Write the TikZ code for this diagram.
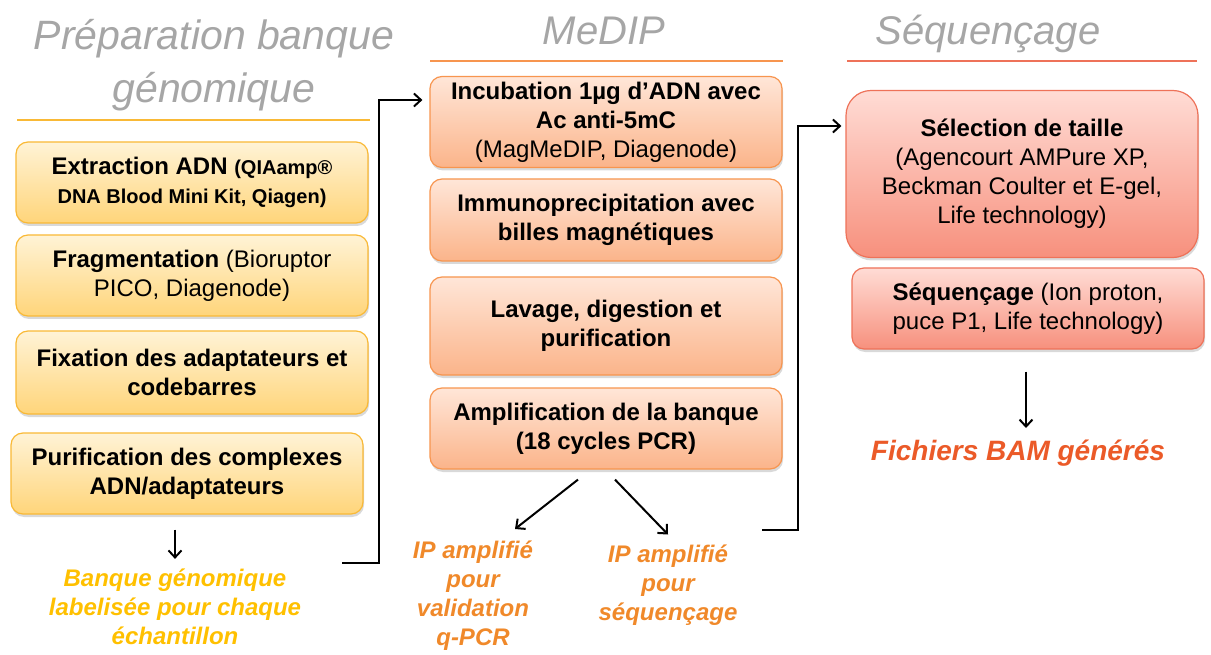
\documentclass[tikz,border=0pt]{standalone}
\usepackage{fontspec}
\setmainfont{Liberation Sans}
\usetikzlibrary{arrows.meta,positioning,calc,shadows}

\definecolor{titlegray}{HTML}{A6A6A6}
\definecolor{prepedge}{HTML}{F9B936}
\definecolor{preptop}{HTML}{FFF3D6}
\definecolor{prepbot}{HTML}{FFD57A}
\definecolor{medipedge}{HTML}{F7954F}
\definecolor{mediptop}{HTML}{FFE6D8}
\definecolor{medipbot}{HTML}{FBB48A}
\definecolor{seqedge}{HTML}{EE7259}
\definecolor{seqtop}{HTML}{FFDCD5}
\definecolor{seqbot}{HTML}{F7907D}
\definecolor{banqueyellow}{HTML}{FFC000}
\definecolor{iporange}{HTML}{F0892A}
\definecolor{bamred}{HTML}{EB5A28}

\begin{document}
\begin{tikzpicture}[x=1pt,y=-1pt,
    box/.style={rectangle, rounded corners=12pt, draw, line width=1.2pt,
        minimum width=352pt, minimum height=81pt, align=center, inner sep=2pt,
        font=\fontsize{24}{29}\selectfont,
        drop shadow={opacity=0.3, shadow xshift=1pt, shadow yshift=-3pt}},
    prepbox/.style={box, draw=prepedge, top color=preptop, bottom color=prepbot},
    medipbox/.style={box, draw=medipedge, top color=mediptop, bottom color=medipbot},
    seqbox/.style={box, draw=seqedge, top color=seqtop, bottom color=seqbot},
    coltitle/.style={align=center, inner sep=0pt, text=titlegray,
        font=\fontsize{40}{53}\selectfont\itshape},
    result/.style={align=center, inner sep=0pt,
        font=\fontsize{24}{29}\selectfont\bfseries\itshape},
    flow/.style={-{Straight Barb[length=7pt,width=13pt]}, line width=2pt},
]
\useasboundingbox (0,0) rectangle (1211,655);

% Titles
\node[coltitle, font=\fontsize{41}{53}\selectfont\itshape] (tprep) at (214,65) {Préparation banque\\génomique};
\node[coltitle, anchor=base] (tmedip) at (604,45) {MeDIP};
\node[coltitle, anchor=base] (tseq) at (988,45) {Séquençage};
\draw[prepedge, line width=1.5pt] (17,120) -- (370,120);
\draw[medipedge, line width=1.5pt] (430,61) -- (783,61);
\draw[seqedge, line width=1.5pt] (847,61) -- (1197,61);

% Préparation banque
\node[prepbox] (extr) at (192,182.5) {\bfseries Extraction ADN \fontsize{20}{27}\selectfont(QIAamp®\\\fontsize{20}{27}\selectfont\bfseries DNA Blood Mini Kit, Qiagen)};
\node[prepbox] (frag) at (192,275.5) {\textbf{Fragmentation} (Bioruptor\\PICO, Diagenode)};
\node[prepbox, minimum height=83pt] (fix) at (192,372.5) {\bfseries Fixation des adaptateurs et\\\bfseries codebarres};
\node[prepbox] (purif) at (187,473.5) {\bfseries Purification des complexes\\\bfseries ADN/adaptateurs};
\node[result, text=banqueyellow] (banque) at (175,607) {Banque génomique\\labelisée pour chaque\\échantillon};

% MeDIP
\node[medipbox, minimum height=91pt] (incub) at (606,122) {\bfseries Incubation 1µg d’ADN avec\\\bfseries Ac anti-5mC\\(MagMeDIP, Diagenode)};
\node[medipbox, minimum height=82pt] (immuno) at (606,220) {\bfseries Immunoprecipitation avec\\\bfseries billes magnétiques};
\node[medipbox, minimum height=98pt] (lavage) at (606,326) {\bfseries Lavage, digestion et\\\bfseries purification};
\node[medipbox] (ampli) at (606,428.5) {\bfseries Amplification de la banque\\\bfseries (18 cycles PCR)};
\node[result, text=iporange] (ipq) at (473,596) {IP amplifié\\pour\\validation\\q-PCR};
\node[result, text=iporange] (ips) at (668,585) {IP amplifié\\pour\\séquençage};

% Séquençage
\node[seqbox, rounded corners=25pt, minimum height=167pt] (select) at (1022,174) {\textbf{Sélection de taille}\\(Agencourt AMPure XP,\\Beckman Coulter et E-gel,\\Life technology)};
\node[seqbox] (seq) at (1028,308.5) {\textbf{Séquençage} (Ion proton,\\puce P1, Life technology)};
\node[result, text=bamred, anchor=base, font=\fontsize{28}{32}\selectfont\bfseries\itshape] (bam) at (1018,460) {Fichiers BAM générés};

% Arrows
\coordinate (prepout) at (342,563);
\coordinate (medipout) at (762,530);
\draw[flow] (banque.north |- purif.south) ++(0,15) -- ([yshift=10pt]banque.north);
\draw[flow] (prepout) -- ++(37,0) |- ([xshift=-7pt,yshift=22pt]incub.west);
\draw[flow] ([xshift=-28pt,yshift=-10pt]ampli.south) -- ([xshift=42pt,yshift=12pt]ipq.north);
\draw[flow] ([xshift=9pt,yshift=-10pt]ampli.south) -- ([yshift=10pt]ips.north);
\draw[flow] (medipout) -- ++(36,0) |- ([xshift=-4pt,yshift=48pt]select.west);
\draw[flow] ([xshift=-2pt,yshift=-22pt]seq.south) -- ([xshift=8pt,yshift=32pt]bam.base);
\end{tikzpicture}
\end{document}
